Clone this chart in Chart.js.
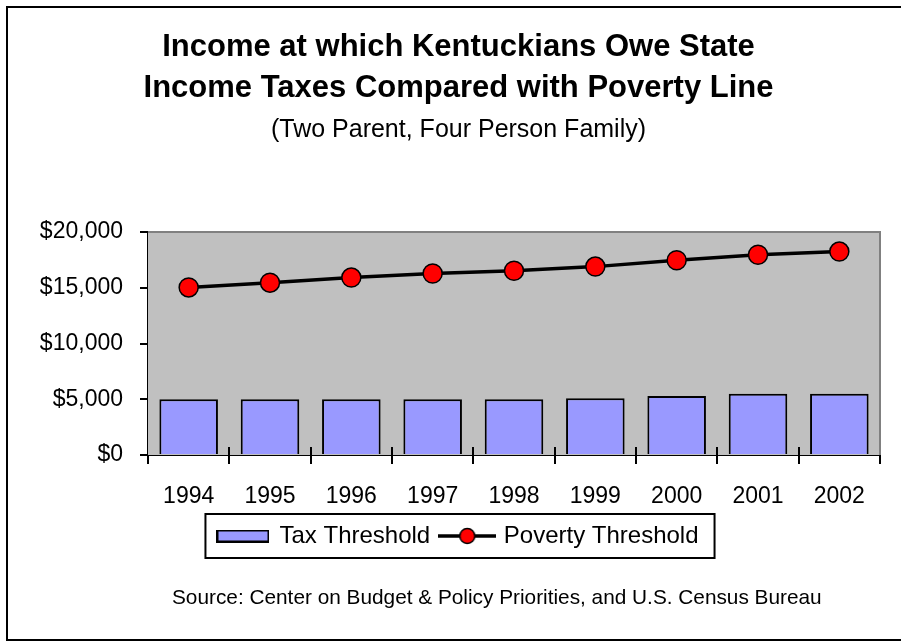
<!DOCTYPE html>
<html>
<head>
<meta charset="utf-8">
<script src="https://cdn.jsdelivr.net/npm/chart.js@4"></script>
<style>
  html, body { margin: 0; padding: 0; background: #fff; overflow: hidden; }
  #wrap { position: relative; width: 901px; height: 641px; }
  #c { position: absolute; left: 0; top: 0; }
  #frame { position: absolute; left: 6px; top: 6px; width: 1000px; height: 635px; box-sizing: border-box; border: 2px solid #000; pointer-events: none; }
  #source { position: absolute; left: 172px; top: 585px; font: 20.8px/24px 'Liberation Sans', Arial, sans-serif; color: #000; white-space: nowrap; }
</style>
</head>
<body>
<div id="wrap">
  <canvas id="c" width="901" height="641"></canvas>
  <div id="frame"></div>
  <div id="source">Source: Center on Budget &amp; Policy Priorities, and U.S. Census Bureau</div>
</div>
<script>
// ---- data ----
const categories = ['1994', '1995', '1996', '1997', '1998', '1999', '2000', '2001', '2002'];
const taxThreshold = [5000, 5000, 5000, 5000, 5000, 5100, 5300, 5500, 5500];
const povertyThreshold = [15029, 15455, 15911, 16276, 16530, 16895, 17463, 17960, 18244];
const yTickValues = [0, 5000, 10000, 15000, 20000];
const titleLines = ['Income at which Kentuckians Owe State', 'Income Taxes Compared with Poverty Line'];
const subtitleText = '(Two Parent, Four Person Family)';
const seriesNames = ['Tax Threshold', 'Poverty Threshold'];

const FONT = "'Liberation Sans', Arial, sans-serif";

// legend swatches
function makeBarSwatch() {
  const c = document.createElement('canvas');
  c.width = 53; c.height = 13;
  const g = c.getContext('2d');
  g.fillStyle = '#9999FF';
  g.fillRect(1, 1, 51, 11);
  g.strokeStyle = '#000'; g.lineWidth = 2;
  g.strokeRect(1, 1, 51, 11);
  return c;
}
function makeLineSwatch() {
  const c = document.createElement('canvas');
  c.width = 58; c.height = 18;
  const g = c.getContext('2d');
  g.strokeStyle = '#000'; g.lineWidth = 3.5;
  g.beginPath(); g.moveTo(0, 9); g.lineTo(58, 9); g.stroke();
  g.beginPath(); g.arc(29, 9, 7.5, 0, Math.PI * 2);
  g.fillStyle = '#FF0000'; g.fill();
  g.lineWidth = 1.5; g.strokeStyle = '#000'; g.stroke();
  return c;
}
const swatches = [makeBarSwatch(), makeLineSwatch()];

const plotDecor = {
  id: 'plotDecor',
  beforeDatasetsDraw(chart) {
    const {ctx, chartArea: a} = chart;
    ctx.save();
    ctx.fillStyle = '#C0C0C0';
    ctx.fillRect(a.left, a.top, a.right - a.left, a.bottom - a.top);
    ctx.strokeStyle = '#808080';
    ctx.lineWidth = 2;
    ctx.beginPath();
    ctx.moveTo(a.left, a.top);
    ctx.lineTo(a.right, a.top);
    ctx.lineTo(a.right, a.bottom);
    ctx.stroke();
    ctx.restore();
  },
  afterDraw(chart) {
    const {ctx, chartArea: a} = chart;
    const xs = chart.scales.x;
    ctx.save();
    // inner part of category separator ticks
    ctx.strokeStyle = '#000';
    ctx.lineWidth = 2;
    for (let i = 1; i < categories.length; i++) {
      const bx = Math.round((xs.getPixelForValue(i - 1) + xs.getPixelForValue(i)) / 2);
      ctx.beginPath();
      ctx.moveTo(bx, a.bottom - 8);
      ctx.lineTo(bx, a.bottom);
      ctx.stroke();
    }
    // legend frame
    const lg = chart.legend;
    const hb = lg.legendHitBoxes;
    if (hb && hb.length) {
      const first = hb[0], last = hb[hb.length - 1];
      const l = first.left - 13;
      const r = last.left + last.width + 16;
      const t = first.top - 10;
      const b = first.top + first.height + 10;
      ctx.lineWidth = 2;
      ctx.strokeRect(l, t, r - l, b - t);
    }
    ctx.restore();
  }
};

new Chart(document.getElementById('c'), {
  type: 'bar',
  data: {
    labels: categories,
    datasets: [
      {
        type: 'bar',
        label: seriesNames[0],
        data: taxThreshold,
        backgroundColor: '#9999FF',
        borderColor: '#000000',
        borderWidth: 2,
        barPercentage: 0.72,
        categoryPercentage: 1.0
      },
      {
        type: 'line',
        label: seriesNames[1],
        data: povertyThreshold,
        borderColor: '#000000',
        borderWidth: 3.5,
        backgroundColor: '#FF0000',
        pointBackgroundColor: '#FF0000',
        pointBorderColor: '#000000',
        pointBorderWidth: 1.5,
        pointRadius: 9.5,
        tension: 0,
        fill: false
      }
    ]
  },
  options: {
    responsive: false,
    animation: false,
    devicePixelRatio: 1,
    layout: { padding: { left: 16, right: 0, top: 0, bottom: 83 } },
    scales: {
      x: {
        offset: true,
        afterFit(scale) { scale.height = 56.4; },
        grid: { display: true, drawOnChartArea: false, drawTicks: true, tickLength: 9, color: '#000', lineWidth: 2, offset: true },
        border: { display: true, color: '#000', width: 2 },
        ticks: { color: '#000', font: { family: FONT, size: 23, lineHeight: 34.8 / 23 }, padding: 15, maxRotation: 0, autoSkip: false }
      },
      y: {
        min: 0,
        max: 20000,
        afterBuildTicks(scale) { scale.ticks = yTickValues.map(v => ({ value: v })); },
        afterFit(scale) { scale.width = 132; },
        grid: { display: true, drawOnChartArea: false, drawTicks: true, tickLength: 8, color: '#000', lineWidth: 2 },
        border: { display: true, color: '#000', width: 2 },
        ticks: {
          color: '#000',
          padding: 17,
          font: { family: FONT, size: 23 },
          callback: (v) => '$' + Number(v).toLocaleString('en-US')
        }
      },
      yRightSpace: {
        type: 'linear',
        position: 'right',
        display: true,
        afterFit(scale) { scale.width = 21; },
        grid: { display: false, drawTicks: false },
        border: { display: false },
        ticks: { display: false }
      }
    },
    plugins: {
      tooltip: { enabled: false },
      title: {
        display: true,
        text: titleLines,
        color: '#000',
        font: { family: FONT, size: 31, weight: 'bold', lineHeight: 41 / 31 },
        padding: { top: 26.5, bottom: 0 }
      },
      subtitle: {
        display: true,
        text: subtitleText,
        color: '#000',
        font: { family: FONT, size: 25, weight: 'normal', lineHeight: 1.2 },
        padding: { top: 6.5, bottom: 87 }
      },
      legend: {
        display: true,
        position: 'bottom',
        labels: {
          color: '#000',
          font: { family: FONT, size: 24 },
          usePointStyle: true,
          pointStyleWidth: 49,
          padding: 12.6,
          generateLabels(chart) {
            const items = Chart.defaults.plugins.legend.labels.generateLabels(chart);
            items.forEach((it, i) => { it.pointStyle = swatches[i]; it.fontColor = '#000'; });
            return items;
          }
        }
      }
    }
  },
  plugins: [plotDecor]
});
</script>
</body>
</html>
